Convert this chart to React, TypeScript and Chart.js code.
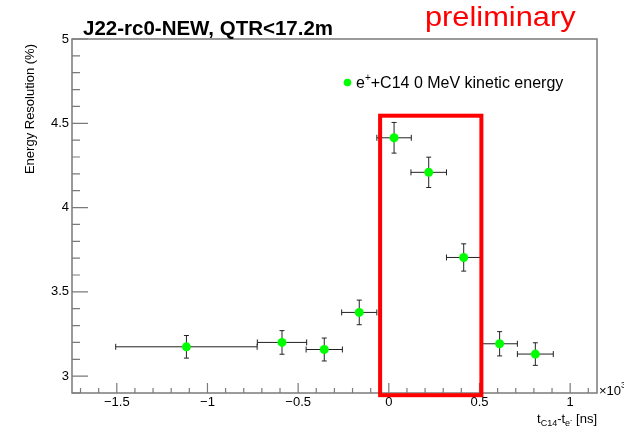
import { useEffect, useRef } from 'react';
import { Chart, registerables } from 'chart.js';

Chart.register(...registerables);

// ---- data ----
const timeDiff = [-1.116, -0.589, -0.356, -0.163, 0.029, 0.22, 0.413, 0.611, 0.808];
const resolution = [3.174, 3.2, 3.158, 3.378, 4.414, 4.209, 3.704, 3.192, 3.131];
const timeErr = [0.39, 0.136, 0.1, 0.097, 0.095, 0.098, 0.095, 0.098, 0.099];
const resolutionErr = [0.067, 0.07, 0.068, 0.073, 0.091, 0.09, 0.081, 0.072, 0.067];
const xTickValues = [-1.5, -1, -0.5, 0, 0.5, 1];
const yTickValues = [3, 3.5, 4, 4.5, 5];
const highlightX = [-0.048, 0.5105];
const highlightY = [2.887, 4.545];
const titleText = 'J22-rc0-NEW, QTR<17.2m';
const stampText = 'preliminary';
const legendText = '+C14 0 MeV kinetic energy';
const yTitle = 'Energy Resolution (%)';

const FONT = '"Liberation Sans", Arial, Helvetica, sans-serif';
const X_MIN = -1.747;
const X_MAX = 1.148;
const Y_MIN = 2.9;
const Y_MAX = 5;

const fmt = (v: number) => (v < 0 ? '\u2212' + String(Math.abs(v)) : String(v));

const decor = {
  id: 'decor',
  beforeDatasetsDraw(chart: any) {
    const { ctx } = chart;
    const xs = chart.scales.x;
    const ys = chart.scales.y;
    ctx.save();
    ctx.strokeStyle = '#222';
    ctx.lineWidth = 1;
    for (let i = 0; i < timeDiff.length; i++) {
      const cx = xs.getPixelForValue(timeDiff[i]);
      const cy = ys.getPixelForValue(resolution[i]);
      const xl = xs.getPixelForValue(timeDiff[i] - timeErr[i]);
      const xr = xs.getPixelForValue(timeDiff[i] + timeErr[i]);
      const yt = ys.getPixelForValue(resolution[i] + resolutionErr[i]);
      const yb = ys.getPixelForValue(resolution[i] - resolutionErr[i]);
      ctx.beginPath();
      ctx.moveTo(xl, cy); ctx.lineTo(xr, cy);
      ctx.moveTo(cx, yt); ctx.lineTo(cx, yb);
      ctx.moveTo(xl, cy - 3); ctx.lineTo(xl, cy + 3);
      ctx.moveTo(xr, cy - 3); ctx.lineTo(xr, cy + 3);
      ctx.moveTo(cx - 2.5, yt); ctx.lineTo(cx + 2.5, yt);
      ctx.moveTo(cx - 2.5, yb); ctx.lineTo(cx + 2.5, yb);
      ctx.stroke();
    }
    ctx.restore();
  },
  afterDraw(chart: any) {
    const { ctx, chartArea } = chart;
    const xs = chart.scales.x;
    const ys = chart.scales.y;
    const { left, right, top, bottom } = chartArea;
    ctx.save();
    // frame
    ctx.strokeStyle = '#7a7a7a';
    ctx.lineWidth = 1.5;
    ctx.strokeRect(left, top, right - left, bottom - top);
    // ticks (inward, ROOT style)
    ctx.lineWidth = 1.2;
    ctx.beginPath();
    for (let k = -17; k <= 11; k++) {
      const v = k / 10;
      const px = xs.getPixelForValue(v);
      const major = k % 5 === 0;
      ctx.moveTo(px, bottom);
      ctx.lineTo(px, bottom - (major ? 10 : 5));
    }
    for (let k = 29; k <= 50; k++) {
      const v = k / 10;
      const py = ys.getPixelForValue(v);
      const major = k % 5 === 0;
      ctx.moveTo(left, py);
      ctx.lineTo(left + (major ? 16 : 8), py);
    }
    ctx.stroke();

    // highlight box
    ctx.strokeStyle = '#ff0000';
    ctx.lineWidth = 4;
    const bx0 = xs.getPixelForValue(highlightX[0]);
    const bx1 = xs.getPixelForValue(highlightX[1]);
    const by0 = ys.getPixelForValue(highlightY[1]);
    const by1 = ys.getPixelForValue(highlightY[0]);
    ctx.strokeRect(bx0, by0, bx1 - bx0, by1 - by0);

    // title
    ctx.fillStyle = '#000';
    ctx.textAlign = 'left';
    ctx.textBaseline = 'alphabetic';
    ctx.font = `bold 20.5px ${FONT}`;
    ctx.fillText(titleText, 83, 35);

    // preliminary stamp
    ctx.fillStyle = '#ff0000';
    ctx.font = `27px ${FONT}`;
    ctx.save();
    ctx.translate(425, 26);
    ctx.scale(1.14, 1);
    ctx.fillText(stampText, 0, 0);
    ctx.restore();

    // legend
    ctx.fillStyle = '#00ff00';
    ctx.beginPath();
    ctx.arc(347.5, 82.5, 3.8, 0, Math.PI * 2);
    ctx.fill();
    ctx.fillStyle = '#000';
    ctx.font = `16px ${FONT}`;
    let lx = 356;
    ctx.fillText('e', lx, 88);
    lx += ctx.measureText('e').width;
    ctx.font = `10px ${FONT}`;
    ctx.fillText('+', lx, 81);
    lx += ctx.measureText('+').width;
    ctx.font = `16px ${FONT}`;
    ctx.fillText(legendText, lx, 88);

    // y axis title
    ctx.save();
    ctx.font = `13px ${FONT}`;
    ctx.translate(33.5, 44);
    ctx.rotate(-Math.PI / 2);
    ctx.textAlign = 'right';
    ctx.fillText(yTitle, 0, 0);
    ctx.restore();

    // x axis title: t_{C14}-t_{e^-} [ns], right aligned
    const parts = [
      { t: 't', s: 13, dy: 0 },
      { t: 'C14', s: 9, dy: 3 },
      { t: '-', s: 13, dy: 0 },
      { t: 't', s: 13, dy: 0 },
      { t: 'e', s: 9, dy: 3 },
      { t: '-', s: 7, dy: -1 },
      { t: ' [ns]', s: 13, dy: 0 },
    ];
    let total = 0;
    for (const p of parts) {
      ctx.font = `${p.s}px ${FONT}`;
      total += ctx.measureText(p.t).width;
    }
    let tx = right - total;
    ctx.textAlign = 'left';
    for (const p of parts) {
      ctx.font = `${p.s}px ${FONT}`;
      ctx.fillText(p.t, tx, 423 + p.dy);
      tx += ctx.measureText(p.t).width;
    }

    // exponent label
    ctx.font = `13px ${FONT}`;
    ctx.fillText('\u00d710', right + 2, 395);
    const w10 = ctx.measureText('\u00d710').width;
    ctx.font = `9px ${FONT}`;
    ctx.fillText('3', right + 2 + w10, 388);
    ctx.restore();
  },
};

export default function App() {
  const ref = useRef<HTMLCanvasElement | null>(null);
  useEffect(() => {
    if (!ref.current) return;
    const chart = new Chart(ref.current, {
      type: 'scatter',
      data: {
        datasets: [
          {
            label: 'e+C14 0 MeV kinetic energy',
            data: timeDiff.map((x, i) => ({ x, y: resolution[i] })),
            pointRadius: 4.5,
            pointHoverRadius: 4.5,
            pointBackgroundColor: '#00ff00',
            pointBorderColor: '#00ff00',
            pointBorderWidth: 0,
            showLine: false,
          },
        ],
      },
      options: {
        animation: false,
        responsive: false,
        events: [],
        layout: { padding: { top: 39, right: 27, left: 0, bottom: 0 } },
        plugins: {
          legend: { display: false },
          tooltip: { enabled: false },
          title: { display: false },
        },
        scales: {
          x: {
            type: 'linear',
            min: X_MIN,
            max: X_MAX,
            grid: { display: false, drawTicks: false },
            border: { display: false },
            afterBuildTicks: (s: any) => {
              s.ticks = xTickValues.map((v) => ({ value: v }));
            },
            afterFit: (s: any) => {
              s.height = 36;
            },
            ticks: {
              padding: 2,
              color: '#000',
              autoSkip: false,
              maxRotation: 0,
              font: { family: FONT, size: 13 },
              callback: (v: any) => fmt(Number(v)),
            },
          },
          y: {
            type: 'linear',
            min: Y_MIN,
            max: Y_MAX,
            grid: { display: false, drawTicks: false },
            border: { display: false },
            afterBuildTicks: (s: any) => {
              s.ticks = yTickValues.map((v) => ({ value: v }));
            },
            afterFit: (s: any) => {
              s.width = 72;
            },
            ticks: {
              padding: 3,
              color: '#000',
              autoSkip: false,
              font: { family: FONT, size: 13 },
              callback: (v: any) => fmt(Number(v)),
            },
          },
        },
      },
      plugins: [decor],
    } as any);
    return () => chart.destroy();
  }, []);
  return (
    <div style={{ position: 'fixed', left: 0, top: 0, width: 624, height: 429, background: '#fff' }}>
      <canvas ref={ref} width={624} height={429} style={{ width: 624, height: 429 }} />
    </div>
  );
}
